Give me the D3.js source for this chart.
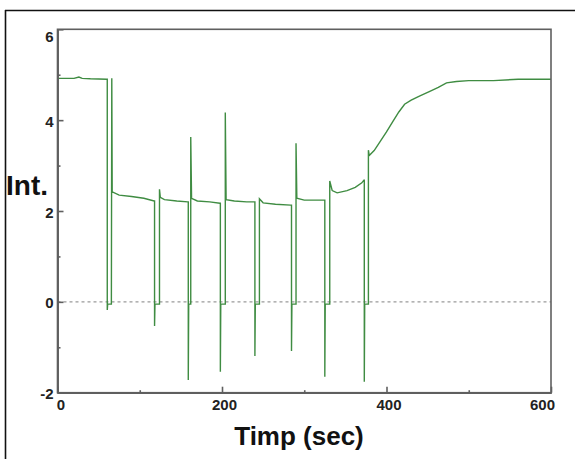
<!DOCTYPE html>
<html>
<head>
<meta charset="utf-8">
<script src="https://cdn.jsdelivr.net/npm/d3@7"></script>
<style>
  body { margin: 0; background: #fff; }
  svg { display: block; font-family: "Liberation Sans", Arial, sans-serif; }
  .axis path, .axis line { stroke: #5f5f5f; stroke-width: 1.6; }
</style>
</head>
<body>
<svg width="575" height="459"></svg>
<script>
// time (sec) and intensity
var timeSec = [0, 20, 26, 30, 40, 60,
  60.5, 60.5, 61, 65.5, 66, 66.5, 75, 90, 105, 117.5,
  118, 118, 118.5, 124, 124, 125, 130, 145, 158.5,
  159, 159, 159.5, 162, 162, 163, 170, 185, 197.5,
  198, 198, 198.5, 204, 204, 205, 215, 230, 239.5,
  240, 240, 240.5, 245.5, 245.5, 250, 265, 283.5,
  284.5, 284.5, 285, 290, 290, 291, 300, 324,
  325, 325, 325.5, 331, 331, 334, 340, 352, 362, 370, 372.5,
  373, 373, 373.5, 378, 378, 379, 385, 392, 400, 408, 415, 422, 430, 440, 452, 463, 473, 485, 500, 530, 560, 600];
var intensity = [4.92, 4.92, 4.95, 4.92, 4.91, 4.90,
  4.90, -0.18, -0.05, -0.05, 4.92, 2.42, 2.35, 2.32, 2.28, 2.22,
  2.22, -0.53, -0.05, -0.05, 2.48, 2.30, 2.25, 2.22, 2.20,
  2.20, -1.72, -0.05, -0.05, 3.63, 2.28, 2.22, 2.20, 2.17,
  2.17, -1.54, -0.05, -0.05, 4.17, 2.25, 2.22, 2.20, 2.20,
  2.20, -1.19, -0.05, -0.05, 2.27, 2.18, 2.15, 2.13,
  2.13, -1.08, -0.05, -0.05, 3.49, 2.28, 2.24, 2.24,
  2.24, -1.65, -0.05, -0.05, 2.66, 2.45, 2.40, 2.45, 2.52, 2.62, 2.68,
  2.68, -1.76, -0.05, -0.05, 3.34, 3.22, 3.33, 3.52, 3.74, 3.98, 4.18, 4.35, 4.44, 4.53, 4.63, 4.72, 4.82, 4.85, 4.87, 4.87, 4.90, 4.90];

var xTicks = [0, 200, 400, 600];
var xMinorTicks = [100, 300, 500];
var yTicks = [-2, 0, 2, 4, 6];
var yMinorTicks = [-1, 1, 3, 5];

var svg = d3.select("svg");
var plotLeft = 57.5, plotTop = 29.3, plotRight = 551, plotBottom = 392.7;

var data = timeSec.map(function(t, i) { return {x: t, y: intensity[i]}; });

var xScale = d3.scaleLinear().domain([0, 600]).range([plotLeft, plotRight]);
var yScale = d3.scaleLinear().domain([-2, 6]).range([plotBottom, plotTop]);

// outer black frame (top and left only visible)
svg.append("line").attr("x1", 5).attr("x2", 575).attr("y1", 10.5).attr("y2", 10.5)
  .attr("stroke", "#111").attr("stroke-width", 1.6);
svg.append("line").attr("x1", 5.5).attr("x2", 5.5).attr("y1", 10).attr("y2", 459)
  .attr("stroke", "#111").attr("stroke-width", 1.6);

// zero line
svg.append("line")
  .attr("x1", plotLeft).attr("x2", plotRight)
  .attr("y1", yScale(0)).attr("y2", yScale(0))
  .attr("stroke", "#9a9a9a").attr("stroke-width", 1.3)
  .attr("stroke-dasharray", "3,3");

// data line
var line = d3.line()
  .x(function(d) { return xScale(d.x); })
  .y(function(d) { return yScale(d.y); });

svg.append("path")
  .datum(data)
  .attr("fill", "none")
  .attr("stroke", "#3f8c42")
  .attr("stroke-width", 1.4)
  .attr("d", line);

// plot frame
svg.append("rect")
  .attr("x", plotLeft).attr("y", plotTop)
  .attr("width", plotRight - plotLeft).attr("height", plotBottom - plotTop)
  .attr("fill", "none").attr("stroke", "#5f5f5f").attr("stroke-width", 1.6);

var plainFormat = function(d) { return String(d); };

var gx = svg.append("g")
  .attr("class", "x axis")
  .attr("transform", "translate(0," + plotBottom + ")")
  .call(d3.axisBottom(xScale).tickValues(xTicks).tickFormat(plainFormat)
    .tickSize(-6).tickSizeOuter(0).tickPadding(7));
gx.selectAll("text")
  .attr("dx", function(d) { return d == 0 ? 3 : (d == 600 ? -9 : 2); });

svg.append("g")
  .attr("class", "x axis")
  .attr("transform", "translate(0," + plotBottom + ")")
  .call(d3.axisBottom(xScale).tickValues(xMinorTicks).tickSize(-2.5).tickSizeOuter(0).tickFormat(""));

var gy = svg.append("g")
  .attr("class", "y axis")
  .attr("transform", "translate(" + plotLeft + ",0)")
  .call(d3.axisLeft(yScale).tickValues(yTicks).tickFormat(plainFormat)
    .tickSize(-6).tickSizeOuter(0).tickPadding(4));
gy.selectAll("text")
  .attr("dy", function(d) { return d == 6 ? "0.8em" : "0.4em"; });

svg.append("g")
  .attr("class", "y axis")
  .attr("transform", "translate(" + plotLeft + ",0)")
  .call(d3.axisLeft(yScale).tickValues(yMinorTicks).tickSize(-3).tickSizeOuter(0).tickFormat(""));

svg.selectAll(".axis text")
  .style("font-family", "'Liberation Sans', Arial, sans-serif")
  .style("font-size", "15px")
  .style("font-weight", "bold")
  .style("fill", "#222");

// axis titles
svg.append("text")
  .attr("x", 6).attr("y", 195)
  .style("font-size", "28px").style("font-weight", "bold").style("fill", "#111")
  .text("Int.");

svg.append("text")
  .attr("x", 299).attr("y", 445)
  .attr("text-anchor", "middle")
  .style("font-size", "26px").style("font-weight", "bold").style("fill", "#111")
  .text("Timp (sec)");
</script>
</body>
</html>
